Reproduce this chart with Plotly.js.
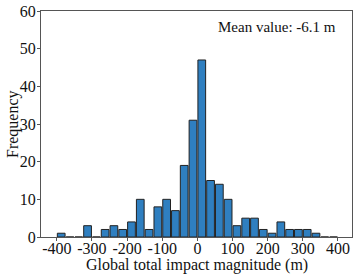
<!DOCTYPE html>
<html>
<head>
<meta charset="utf-8">
<script src="https://cdn.plot.ly/plotly-3.0.1.min.js"></script>
<style>html,body{margin:0;padding:0;background:#fff;}#chart{width:357px;height:278px;}</style>
</head>
<body>
<div id="chart"></div>
<script>
// Histogram bins: start -400, width 25 m
const binStart = -400;
const binWidth = 25;
const counts = [1, 0, 0, 3, 0, 2, 3, 2, 4, 10, 2, 8, 10, 7, 19, 31, 47, 15, 14, 10, 3, 5, 5, 2, 1, 4, 2, 2, 2, 1, 0, 0];
const xTicks = [-400, -300, -200, -100, 0, 100, 200, 300, 400];
const yTicks = [0, 10, 20, 30, 40, 50, 60];
const meanLabel = "Mean value: -6.1 m";
const xTitle = "Global total impact magnitude (m)";
const yTitle = "Frequency";

const centers = counts.map((c, i) => binStart + binWidth * (i + 0.5));

const font = "Liberation Serif, Times New Roman, serif";

Plotly.newPlot('chart', [{
  type: 'bar',
  x: centers,
  y: counts,
  width: binWidth * 0.88,
  marker: {color: '#2f7fc0', line: {color: '#222222', width: 1}},
  hoverinfo: 'skip'
}], {
  width: 357, height: 278,
  margin: {l: 41, r: 5, t: 11, b: 41},
  paper_bgcolor: '#fff', plot_bgcolor: '#fff',
  showlegend: false,
  font: {family: font, size: 16, color: '#111'},
  xaxis: {
    range: [-445, 440], tickvals: xTicks, ticktext: xTicks.map(String),
    showgrid: false, zeroline: false, showline: true, mirror: true, linecolor: '#555', linewidth: 1,
    ticks: 'outside', ticklen: 3, tickcolor: '#555', tickfont: {family: font, size: 16, color: '#111'},
    ticklabelstandoff: -6, automargin: false
  },
  yaxis: {
    range: [0, 60], tickvals: yTicks, ticktext: yTicks.map(String),
    showgrid: false, zeroline: false, showline: true, mirror: true, linecolor: '#555', linewidth: 1,
    ticks: 'outside', ticklen: 3, tickcolor: '#555', tickfont: {family: font, size: 16, color: '#111'},
    ticklabelstandoff: -2, automargin: false
  },
  annotations: [{
    xref: 'paper', yref: 'paper', x: 0.955, y: 0.93, xanchor: 'right', yanchor: 'middle',
    text: meanLabel, showarrow: false, font: {family: font, size: 15, color: '#111'}
  }, {
    xref: 'paper', yref: 'paper', x: 0.5, y: -0.126, xanchor: 'center', yanchor: 'middle',
    text: xTitle, showarrow: false, font: {family: font, size: 16, color: '#111'}
  }, {
    xref: 'paper', yref: 'paper', x: -0.09, y: 0.5, xanchor: 'center', yanchor: 'middle', textangle: -90,
    text: yTitle, showarrow: false, font: {family: font, size: 16, color: '#111'}
  }]
}, {displayModeBar: false, staticPlot: true});
</script>
</body>
</html>
